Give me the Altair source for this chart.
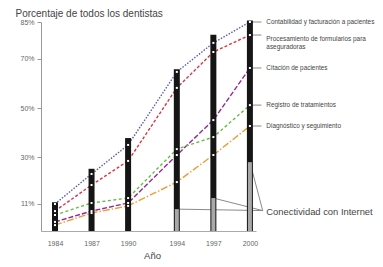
import altair as alt
import pandas as pd

years = [1984, 1987, 1990, 1994, 1997, 2000]
contabilidad = [11.0, 23.2, 35.0, 64.7, 76.5, 85.0]
procesamiento = [8.1, 18.7, 28.5, 58.2, 72.8, 79.7]
citacion = [3.7, 8.1, 11.4, 30.9, 45.1, 66.3]
registro = [6.5, 11.4, 13.4, 33.3, 38.2, 51.2]
diagnostico = [2.4, 7.3, 10.2, 19.9, 30.9, 42.7]
bar_top = [11.7, 25.3, 37.8, 65.8, 79.8, 85.6]
internet_years = [1994, 1997, 2000]
internet = [8.9, 13.4, 28.0]

series_values = [contabilidad, procesamiento, citacion, registro, diagnostico]
series_labels = [
    "Contabilidad y facturación a pacientes",
    "Procesamiento de formularios para\naseguradoras",
    "Citación de pacientes",
    "Registro de tratamientos",
    "Diagnóstico y seguimiento",
]
series_colors = ["#5e5eac", "#dc3448", "#962896", "#64be44", "#f09c34"]
series_dash = [[1.5, 1.5], [3, 2], [5, 2], [3, 2.5], [7, 2, 1.5, 2]]
label_text_y = [85.0, 78.0, 66.3, 51.2, 42.7]
internet_label = "Conectividad con Internet"

FONT = "Liberation Sans"
xs = alt.Scale(domain=[1982.85, 2000.5], nice=False, zero=False)
ys = alt.Scale(domain=[0, 85], nice=False, zero=False)

xaxis = alt.Axis(values=years, format="d", ticks=False, labelPadding=8,
                 labelFontSize=7, labelColor="#666", labelFont=FONT,
                 domainColor="#aaa", grid=False, labelFlush=False,
                 title="Año", titleFontSize=9.5, titleFontWeight="normal",
                 titleColor="#444", titleFont=FONT, titleY=27,
                 titleX=111, titleBaseline="alphabetic")
yaxis = alt.Axis(values=[11, 30, 50, 70, 85], labelExpr="datum.value + '%'",
                 tickSize=4, tickColor="#999", domainColor="#999",
                 labelFontSize=7, labelColor="#666", labelFont=FONT,
                 labelPadding=3, grid=False,
                 title="Porcentaje de todos los dentistas", titleAngle=0,
                 titleAlign="left", titleBaseline="alphabetic",
                 titleX=-26, titleY=-6, titleFontSize=10,
                 titleFontWeight="normal", titleColor="#444", titleFont=FONT)


def X(f):
    return alt.X(f, type="quantitative", scale=xs, axis=xaxis)


def Y(f):
    return alt.Y(f, type="quantitative", scale=ys, axis=yaxis)


rows = []
for lab, vals in zip(series_labels, series_values):
    for yr, v in zip(years, vals):
        rows.append({"serie": lab, "year": yr, "v": v})
pts = pd.DataFrame(rows)

layers = []
# series lines
for lab, col, dash in zip(series_labels, series_colors, series_dash):
    d = pts[pts["serie"] == lab]
    layers.append(
        alt.Chart(d).mark_line(color=col, strokeDash=dash, strokeWidth=1.4)
        .encode(x=X("year"), y=Y("v"))
    )

# internet leader lines
inet = pd.DataFrame({"year": internet_years, "v": internet,
                     "x2": [2001.05] * 3, "y2": [8.3] * 3})
layers.append(
    alt.Chart(inet).mark_rule(color="#8a8a8a", strokeWidth=1)
    .encode(x=X("year"), y=Y("v"), x2="x2", y2="y2")
)

# series label leaders
lab_df = pd.DataFrame({
    "label": series_labels,
    "ly": [vals[-1] for vals in series_values],
    "ty": label_text_y,
    "x0": [2000.0] * 5,
    "x1": [2000.95] * 5,
    "tx": [2001.35] * 5,
})
layers.append(
    alt.Chart(lab_df).mark_rule(color="#8a8a8a", strokeWidth=1)
    .encode(x=X("x0"), x2="x1", y=Y("ly"))
)

# black bars
bars = pd.DataFrame({"year": years, "top": bar_top})
layers.append(
    alt.Chart(bars).mark_rule(color="#151515", strokeWidth=6)
    .encode(x=X("year"), y=Y("top"), y2=alt.datum(0))
)
# grey internet bars
layers.append(
    alt.Chart(inet).mark_rule(color="#a8a8a8", strokeWidth=4)
    .encode(x=X("year"), y=Y("v"), y2=alt.datum(0))
)
# white markers
layers.append(
    alt.Chart(pts).mark_square(color="white", size=4, opacity=1)
    .encode(x=X("year"), y=Y("v"))
)
# series labels
layers.append(
    alt.Chart(lab_df).mark_text(align="left", baseline="middle", fontSize=6.4,
                                 color="#444", font=FONT, lineBreak="\n",
                                 lineHeight=8)
    .encode(x=X("tx"), y=Y("ty"), text="label")
)
# internet label
inet_lab = pd.DataFrame({"tx": [2001.35], "ty": [7.7], "label": [internet_label]})
layers.append(
    alt.Chart(inet_lab).mark_text(align="left", baseline="middle", fontSize=9.4,
                                   color="#444", font=FONT)
    .encode(x=X("tx"), y=Y("ty"), text="label")
)

chart = alt.layer(*layers).properties(
    width=215, height=209,
    padding={"left": 33, "top": 14, "right": 119, "bottom": 28},
    autosize=alt.AutoSizeParams(type="none"),
    background="white",
).configure_view(stroke=None)

chart.save("out.html", embed_options={"renderer": "svg", "actions": False})
